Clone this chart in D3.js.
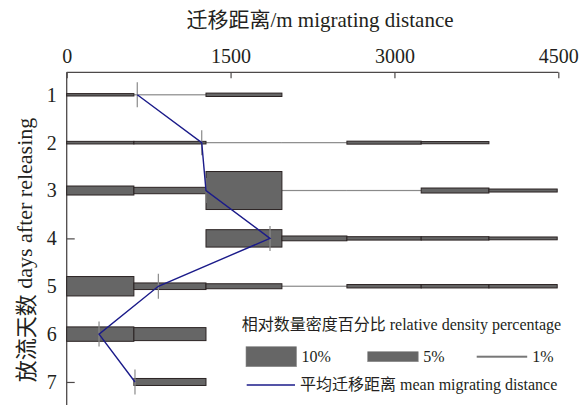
<!DOCTYPE html>
<html>
<head>
<meta charset="utf-8">
<script src="https://cdn.jsdelivr.net/npm/d3@7"></script>
<style>
  html, body { margin: 0; padding: 0; background: #fff; }
  svg { display: block; }
  text, tspan { font-family: "Liberation Serif", serif; fill: #231f20; }
  tspan.cjk { font-family: "Noto Sans CJK SC", sans-serif; }
</style>
</head>
<body>
<svg id="chart" width="579" height="405"></svg>
<script>
// Days after releasing (rows)
const days = [1, 2, 3, 4, 5, 6, 7];
// Distance class edges, metres
const binEdges = [0, 615, 1275, 1970, 2565, 3245, 3865, 4490];
// Relative density percentage of each distance class, one array per day
const density1 = [1.2, 0.5, 1.7, 0, 0, 0, 0];
const density2 = [1.3, 1.3, 0.5, 0.5, 1.5, 1.1, 0];
const density3 = [4.5, 3.2, 19, 0.5, 0.5, 2.5, 1.5];
const density4 = [0, 0, 8.7, 2.4, 1.7, 1.7, 1.4];
const density5 = [9.7, 3.3, 2.5, 0.5, 1.7, 1.7, 1.7];
const density6 = [7.2, 6.5, 0, 0, 0, 0, 0];
const density7 = [0, 3.5, 0, 0, 0, 0, 0];
// Mean migrating distance per day, metres
const meanDistance = [646, 1236, 1275, 1861, 839, 296, 625];
// Axis ticks
const xTicks = [0, 1500, 3000, 4500];
// Legend entries
const legendPercents = [10, 5, 1];

const densities = [density1, density2, density3, density4, density5, density6, density7];

const svg = d3.select("#chart");

const x = d3.scaleLinear().domain([0, 4500]).range([66.7, 558.3]);
const y = d3.scaleLinear().domain([0.53, 7.5]).range([72.3, 405.9]);
// bar thickness per percent
const thick = d3.scaleLinear().domain([0, 10]).range([0, 20]);

const axisColor = "#4d4949";
const barFill = "#666666";
const barStroke = "#2b2323";
const thinColor = "#8a8a8a";
const meanColor = "#1b1b8a";

// Writes mixed Chinese / Latin text, giving each script run its own font
function mixedText(sel, str) {
  const runs = str.match(/[\u3400-\u9fff]+|[^\u3400-\u9fff]+/g) || [];
  sel.selectAll("tspan").data(runs).join("tspan")
    .attr("class", d => /[\u3400-\u9fff]/.test(d) ? "cjk" : null)
    .text(d => d);
  return sel;
}

// Title
svg.append("text")
  .attr("x", 320).attr("y", 27)
  .attr("text-anchor", "middle")
  .style("font-size", "21px")
  .call(mixedText, "迁移距离/m migrating distance");

// Top x axis
const xAxis = d3.axisTop(x).tickValues(xTicks).tickSize(-6).tickPadding(10).tickFormat(d3.format("d"));
const gx = svg.append("g").attr("transform", `translate(0,${y.range()[0]})`).call(xAxis)
  .attr("font-family", null);
gx.select(".domain").attr("stroke", axisColor).attr("stroke-width", 1.3).attr("d", `M${x(0)},0H${x(4500)}`);
gx.selectAll(".tick line").attr("stroke", axisColor).attr("stroke-width", 1.2);
gx.selectAll(".tick text").style("font-size", "20px").style("font-family", "'Liberation Serif', serif")
  .attr("fill", "#231f20").attr("y", -9);

// Left y axis
const yAxis = d3.axisLeft(y).tickValues(days).tickSize(-8).tickPadding(10).tickFormat(d3.format("d"));
const gy = svg.append("g").attr("transform", `translate(${x(0)},0)`).call(yAxis)
  .attr("font-family", null);
gy.select(".domain").attr("stroke", axisColor).attr("stroke-width", 1.3)
  .attr("d", `M0,${y.range()[0]}V${y.range()[1]}`);
gy.selectAll(".tick line").attr("stroke", axisColor).attr("stroke-width", 1.2);
gy.selectAll(".tick text").style("font-size", "20px").style("font-family", "'Liberation Serif', serif")
  .attr("fill", "#231f20").attr("x", -10);

// Y axis title
svg.append("text")
  .attr("transform", `translate(24,${250}) rotate(-90)`)
  .attr("text-anchor", "middle")
  .attr("dominant-baseline", "central")
  .style("font-size", "22px")
  .call(mixedText, "放流天数 days after releasing");

// Density bars
const cells = [];
densities.forEach((row, i) => {
  row.forEach((p, j) => {
    if (p > 0) cells.push({ day: days[i], x0: binEdges[j], x1: binEdges[j + 1], p });
  });
});

const barsG = svg.append("g");
// faint classes (< 1 %) drawn as thin grey rules
barsG.selectAll("rect.thin")
  .data(cells.filter(c => c.p < 1))
  .join("rect")
  .attr("class", "thin")
  .attr("x", d => x(d.x0))
  .attr("width", d => x(d.x1) - x(d.x0))
  .attr("y", d => y(d.day) - Math.max(1.2, thick(d.p)) / 2)
  .attr("height", d => Math.max(1.2, thick(d.p)))
  .attr("fill", thinColor);
barsG.selectAll("rect.bar")
  .data(cells.filter(c => c.p >= 1))
  .join("rect")
  .attr("class", "bar")
  .attr("x", d => x(d.x0))
  .attr("width", d => x(d.x1) - x(d.x0))
  .attr("y", d => y(d.day) - thick(d.p) / 2)
  .attr("height", d => thick(d.p))
  .attr("fill", barFill)
  .attr("stroke", barStroke)
  .attr("stroke-width", 1);

// Mean markers
const means = days.map((d, i) => ({ day: d, m: meanDistance[i] }));
svg.append("g").selectAll("line")
  .data(means)
  .join("line")
  .attr("x1", d => x(d.m)).attr("x2", d => x(d.m))
  .attr("y1", d => y(d.day) - 12.5).attr("y2", d => y(d.day) + 12.5)
  .attr("stroke", thinColor).attr("stroke-width", 1.2);

// Mean migrating distance line
const line = d3.line().x(d => x(d.m)).y(d => y(d.day));
svg.append("path")
  .datum(means)
  .attr("d", line)
  .attr("fill", "none")
  .attr("stroke", meanColor)
  .attr("stroke-width", 1.4);

// Legend
const lg = svg.append("g");
lg.append("text").attr("x", 241.7).attr("y", 329.5).style("font-size", "16px")
  .call(mixedText, "相对数量密度百分比 relative density percentage");

const legendX = [246, 367.7, 476.7];
const legendW = 50.5;
const legendY = 356.7;
legendPercents.forEach((p, i) => {
  if (p > 1) {
    lg.append("rect")
      .attr("x", legendX[i]).attr("width", legendW)
      .attr("y", legendY - thick(p) / 2).attr("height", thick(p))
      .attr("fill", barFill).attr("stroke", "#8a8a8a").attr("stroke-width", 0.6);
  } else {
    lg.append("rect")
      .attr("x", legendX[i]).attr("width", legendW)
      .attr("y", legendY - thick(p) / 2).attr("height", thick(p))
      .attr("fill", "#777");
  }
  lg.append("text")
    .attr("x", legendX[i] + legendW + 5).attr("y", legendY + 5.5)
    .style("font-size", "16px")
    .text(p + "%");
});

lg.append("line")
  .attr("x1", 246.7).attr("x2", 295)
  .attr("y1", 385).attr("y2", 385)
  .attr("stroke", meanColor).attr("stroke-width", 1.4);
lg.append("text").attr("x", 300).attr("y", 389.5).style("font-size", "16px")
  .call(mixedText, "平均迁移距离 mean migrating distance");
</script>
</body>
</html>
